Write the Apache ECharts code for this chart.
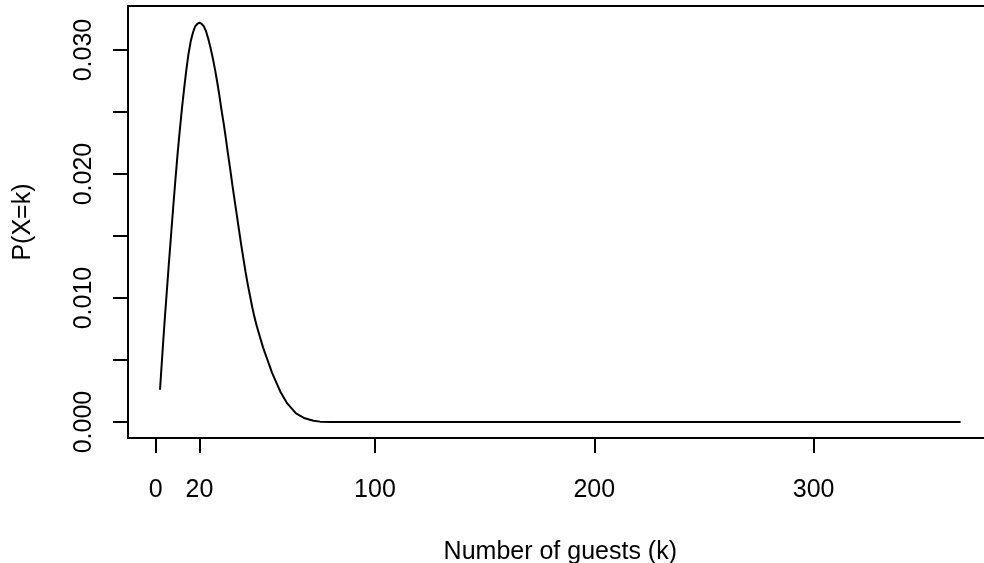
<!DOCTYPE html>
<html><head><meta charset="utf-8">
<script src="https://cdn.jsdelivr.net/npm/echarts@6/dist/echarts.min.js"></script>
<style>html,body{margin:0;padding:0;background:#fff}#c{width:984px;height:563px}</style>
</head><body><div id="c"></div>
<script>
const guests = [2,3,4,5,6,7,8,9,10,11,12,13,14,15,16,17,18,19,20,21,22,23,24,25,26,27,28,29,30,31,32,33,34,35,36,37,38,39,40,41,42,43,44,45,46,47,48,49,50,51,52,53,54,55,56,57,58,60,62,64,66,68,70,72,75,80,90,100,150,200,250,300,367];
const prob = [0.0026,0.0053,0.0079,0.0103,0.0127,0.0150,0.0173,0.0195,0.0216,0.0235,0.0253,0.0269,0.0284,0.0297,0.0307,0.0314,0.0319,0.0321,0.0322,0.0321,0.0319,0.0315,0.0309,0.0302,0.0294,0.0285,0.0275,0.0264,0.0252,0.0241,0.0229,0.0216,0.0204,0.0191,0.0179,0.0167,0.0155,0.0143,0.0132,0.0121,0.0111,0.0102,0.0093,0.0085,0.0078,0.0072,0.0066,0.0060,0.0055,0.0050,0.0045,0.0040,0.0036,0.0032,0.0028,0.0024,0.0021,0.0015,0.0011,0.0007,0.0005,0.0003,0.0002,0.0001,0.00003,0.00001,0,0,0,0,0,0,0];
const xTicks = [0,20,100,200,300];
const yTicks = [0,0.005,0.010,0.015,0.020,0.025,0.030];
const yLabels = [0,0.010,0.020,0.030];

const font = '"Liberation Sans", Arial, Helvetica, sans-serif';
const chart = echarts.init(document.getElementById('c'));
chart.setOption({
  animation: false,
  backgroundColor: '#fff',
  grid: {left: 128, top: 6, width: 864.6, height: 432, show: true, borderColor: '#000', borderWidth: 2,
    containLabel: false, outerBoundsMode: 'none'},
  xAxis: {
    type: 'value', min: -12.6, max: 381.6,
    name: 'Number of guests (k)', nameLocation: 'middle', nameGap: 102,
    nameTextStyle: {fontFamily: font, fontSize: 25, color: '#000'},
    axisLine: {show: false, onZero: false},
    splitLine: {show: false},
    axisTick: {show: true, customValues: xTicks, length: 15, inside: false, lineStyle: {color: '#000', width: 2}},
    axisLabel: {customValues: xTicks, margin: 40, fontFamily: font, fontSize: 25, color: '#000'}
  },
  yAxis: {
    type: 'value', min: -0.00129, max: 0.03355,
    name: 'P(X=k)', nameLocation: 'middle', nameGap: 92,
    nameTextStyle: {fontFamily: font, fontSize: 25, color: '#000'},
    axisLine: {show: false, onZero: false},
    splitLine: {show: false},
    axisTick: {show: true, customValues: yTicks, length: 15, inside: false, lineStyle: {color: '#000', width: 2}},
    axisLabel: {customValues: yLabels, rotate: 90, margin: 31, fontFamily: font, fontSize: 25, color: '#000',
      formatter: v => v.toFixed(3)}
  },
  series: [{
    type: 'line', showSymbol: false, smooth: false,
    data: guests.map((k, i) => [k, prob[i]]),
    lineStyle: {color: '#000', width: 2}
  }]
});
</script></body></html>
